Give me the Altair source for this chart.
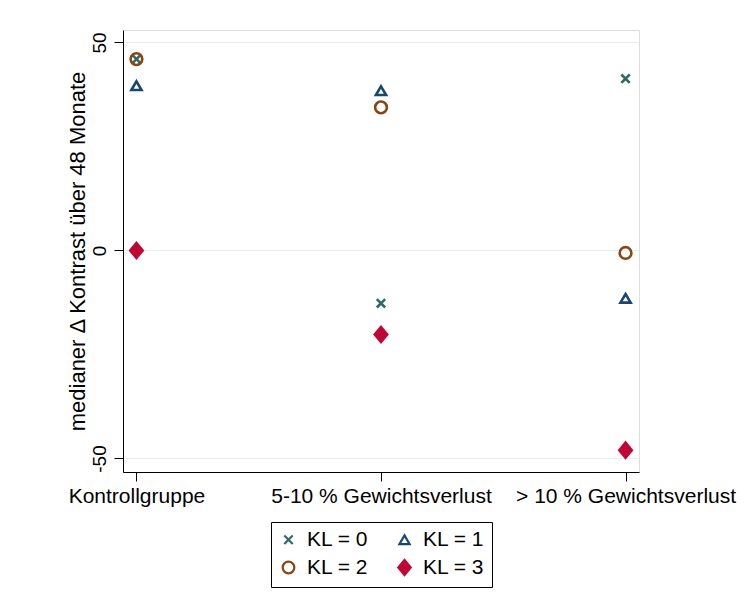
import altair as alt
import pandas as pd

groups = ["Kontrollgruppe", "5-10 % Gewichtsverlust", "> 10 % Gewichtsverlust"]
kl_labels = ["KL = 0", "KL = 1", "KL = 2", "KL = 3"]
kl0 = [46.0, -12.7, 41.3]
kl1 = [39.6, 38.4, -11.5]
kl2 = [46.0, 34.4, -0.6]
kl3 = [0.0, -20.2, -48.0]

colors = ["#2e6b65", "#1a476f", "#8b4513", "#c10534"]
fills = ["transparent", "transparent", "transparent", "#c10534"]
shapes = [
    "M-1,-1L1,1M-1,1L1,-1",
    "M0,-0.85L1,0.85L-1,0.85Z",
    "circle",
    "M0,-1.15L0.95,0L0,1.15L-0.95,0Z",
]
sizes = [70, 170, 100, 260]

rows = []
for lab, vals in zip(kl_labels, [kl0, kl1, kl2, kl3]):
    for g, v in zip(groups, vals):
        rows.append({"group": g, "KL": lab, "value": v})
df = pd.DataFrame(rows)

font = "Liberation Sans"

chart = (
    alt.Chart(df)
    .mark_point(filled=False, strokeWidth=2.6, opacity=1)
    .encode(
        x=alt.X(
            "group:N",
            sort=groups,
            scale=alt.Scale(type="point", padding=0.055),
            axis=alt.Axis(
                title=None,
                labelAngle=0,
                labelFontSize=21,
                labelFont=font,
                labelColor="black",
                labelPadding=4,
                labelLimit=500,
                tickSize=9,
                tickColor="black",
                domainColor="black",
                grid=False,
            ),
        ),
        y=alt.Y(
            "value:Q",
            scale=alt.Scale(domain=[-53.25, 53.0], nice=False, zero=False),
            axis=alt.Axis(
                title="medianer Δ Kontrast über 48 Monate",
                titleFontSize=22,
                titleFont=font,
                titleFontWeight="normal",
                titleColor="black",
                titlePadding=1,
                values=[-50, 0, 50],
                labelExpr="datum.value",
                labelAngle=270,
                labelAlign="center",
                labelBaseline="bottom",
                labelFontSize=19,
                labelFont=font,
                labelColor="black",
                labelPadding=5,
                tickSize=9,
                tickColor="black",
                domainColor="black",
                grid=True,
                gridColor="#e6eff1",
                gridWidth=1.2,
            ),
        ),
        color=alt.Color(
            "KL:N",
            scale=alt.Scale(domain=kl_labels, range=colors),
            legend=alt.Legend(
                title=None,
                orient="none",
                legendX=148,
                legendY=492,
                columns=2,
                direction="horizontal",
                labelFontSize=21,
                labelFont=font,
                labelColor="black",
                symbolStrokeWidth=2.2,
                symbolSize=120,
                strokeColor="black",
                padding=7,
                columnPadding=24,
                rowPadding=5,
                labelOffset=8,
                cornerRadius=0,
            ),
        ),
        fill=alt.Fill("KL:N", scale=alt.Scale(domain=kl_labels, range=fills)),
        shape=alt.Shape("KL:N", scale=alt.Scale(domain=kl_labels, range=shapes)),
        size=alt.Size("KL:N", scale=alt.Scale(domain=kl_labels, range=sizes), legend=None),
    )
    .properties(width=516, height=442, padding={"top": 22, "left": 58, "right": 5, "bottom": 5})
    .configure_view(stroke=None)
    .configure(background="white")
)

chart.save("out.html", embed_options={"renderer": "svg", "actions": False})
